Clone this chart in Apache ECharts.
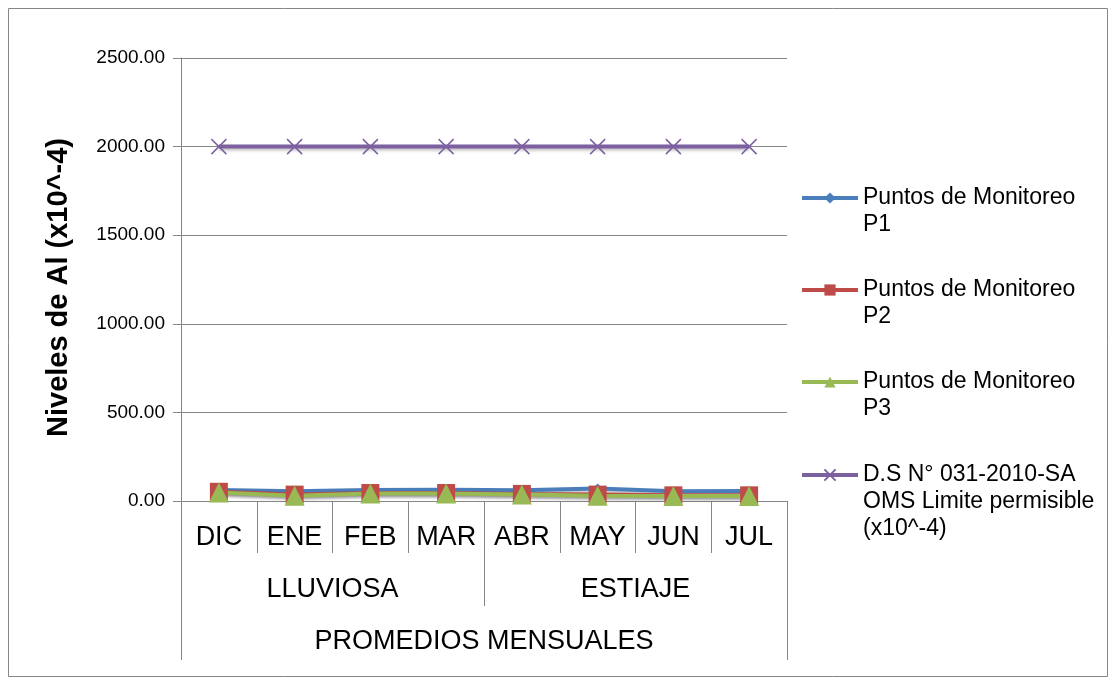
<!DOCTYPE html>
<html>
<head>
<meta charset="utf-8">
<script src="https://cdn.jsdelivr.net/npm/echarts@6/dist/echarts.min.js"></script>
<style>
  html, body { margin: 0; padding: 0; background: #fff; }
  #chart { width: 1115px; height: 684px; }
</style>
</head>
<body>
<div id="chart"></div>
<script>
const months = ['DIC', 'ENE', 'FEB', 'MAR', 'ABR', 'MAY', 'JUN', 'JUL'];
const seasons = ['LLUVIOSA', 'ESTIAJE'];
const groupLabel = ['PROMEDIOS MENSUALES'];

const p1 = [62, 55, 62, 64, 60, 70, 55, 56];
const p2 = [52, 36, 45, 45, 40, 36, 32, 32];
const p3 = [48, 30, 42, 42, 36, 30, 28, 28];
const limit = [2000, 2000, 2000, 2000, 2000, 2000, 2000, 2000];

const names = {
  p1: 'Puntos de Monitoreo P1',
  p2: 'Puntos de Monitoreo P2',
  p3: 'Puntos de Monitoreo P3',
  ds: 'D.S N° 031-2010-SA OMS Limite permisible (x10^-4)'
};
// blank leading lines keep the legend icon level with the first text line
const wrapped = {
  [names.p1]: ' \nPuntos de Monitoreo\nP1',
  [names.p2]: ' \nPuntos de Monitoreo\nP2',
  [names.p3]: ' \nPuntos de Monitoreo\nP3',
  [names.ds]: ' \n \nD.S N° 031-2010-SA\nOMS Limite permisible\n(x10^-4)'
};

const font = 'Liberation Sans, Arial, sans-serif';
const gray = '#868686';
const xPath = 'path://M0,0 L10,10 M10,0 L0,10';

const chart = echarts.init(document.getElementById('chart'), null, { renderer: 'canvas' });

function lineSeries(name, data, color, symbol, size, extra) {
  return Object.assign({
    name: name,
    type: 'line',
    data: data,
    symbol: symbol,
    symbolSize: size,
    lineStyle: { color: color, width: 4, shadowColor: 'rgba(0,0,0,0.25)', shadowBlur: 3, shadowOffsetY: 2 },
    itemStyle: { color: color },
    animation: false
  }, extra || {});
}

const legendBase = {
  orient: 'vertical',
  left: 800,
  itemWidth: 56,
  itemHeight: 14,
  itemGap: 11,
  padding: 0,
  formatter: (n) => wrapped[n],
  lineStyle: { width: 4 },
  textStyle: { fontFamily: font, fontSize: 23, lineHeight: 27, color: '#000' }
};

chart.setOption({
  backgroundColor: '#fff',
  graphic: [{
    type: 'rect',
    shape: { x: 8.5, y: 8.5, width: 1099, height: 668 },
    style: { fill: 'none', stroke: gray, lineWidth: 1 },
    silent: true,
    z: -1
  }],
  grid: { left: 181, right: 328, top: 58, bottom: 183 },
  legend: [
    Object.assign({}, legendBase, {
      top: 157.5,
      data: [names.p1, names.p2, names.p3]
    }),
    Object.assign({}, legendBase, {
      top: 407.5,
      data: [names.ds]
    })
  ],
  xAxis: [
    {
      type: 'category',
      data: months,
      position: 'bottom',
      boundaryGap: true,
      axisLine: { show: true, lineStyle: { color: gray, width: 1 } },
      axisTick: { show: true, interval: 0, length: 52, lineStyle: { color: gray } },
      axisLabel: { interval: 0, margin: 23, fontFamily: font, fontSize: 27, color: '#000' }
    },
    {
      type: 'category',
      data: seasons,
      position: 'bottom',
      boundaryGap: true,
      axisLine: { show: false },
      axisTick: { show: true, interval: 0, length: 105, lineStyle: { color: gray } },
      axisLabel: { interval: 0, margin: 75, fontFamily: font, fontSize: 27, color: '#000' }
    },
    {
      type: 'category',
      data: groupLabel,
      position: 'bottom',
      boundaryGap: true,
      axisLine: { show: false },
      axisTick: { show: true, interval: 0, length: 159, lineStyle: { color: gray } },
      axisLabel: { interval: 0, margin: 127, fontFamily: font, fontSize: 27, color: '#000' }
    }
  ],
  yAxis: {
    type: 'value',
    min: 0,
    max: 2500,
    interval: 500,
    name: 'Niveles de Al (x10^-4)',
    nameLocation: 'middle',
    nameRotate: 90,
    nameGap: 108,
    nameTextStyle: { fontFamily: font, fontSize: 29, fontWeight: 'bold', color: '#000', padding: [0, 16, 0, 0] },
    axisLine: { show: true, lineStyle: { color: gray, width: 1 } },
    axisTick: { show: true, length: 8, lineStyle: { color: gray } },
    axisLabel: { margin: 16, fontFamily: font, fontSize: 19, color: '#000', formatter: (v) => v.toFixed(2) },
    splitLine: { show: true, lineStyle: { color: gray, width: 1 } }
  },
  series: [
    lineSeries(names.p1, p1, '#4A7EBB', 'diamond', 10),
    lineSeries(names.p2, p2, '#BE4B48', 'rect', 18),
    lineSeries(names.p3, p3, '#98B954', 'triangle', 20),
    lineSeries(names.ds, limit, '#7D60A0', xPath, 15, {
      itemStyle: { color: '#7D60A0', borderColor: '#7D60A0', borderWidth: 1.5 }
    })
  ]
});
</script>
</body>
</html>
